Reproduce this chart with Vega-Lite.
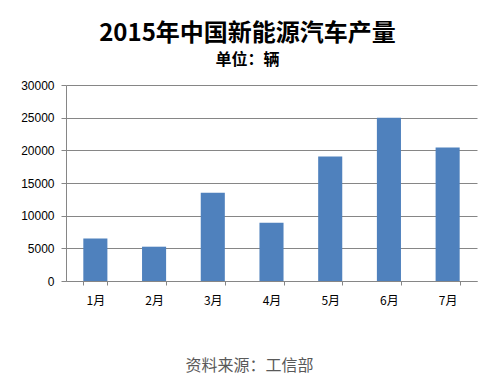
{
  "$schema": "https://vega.github.io/schema/vega-lite/v6.json",
  "width": 411,
  "height": 196,
  "autosize": {"type": "none"},
  "padding": {"left": 66, "top": 85, "right": 19, "bottom": 97},
  "background": "white",
  "title": {
    "text": "2015年中国新能源汽车产量",
    "subtitle": "单位：辆",
    "anchor": "middle",
    "font": "Noto Sans CJK SC",
    "fontSize": 24,
    "fontWeight": "bold",
    "color": "#000000",
    "subtitleFont": "Noto Sans CJK SC",
    "subtitleFontSize": 16,
    "subtitleFontWeight": "bold",
    "subtitleColor": "#000000",
    "subtitlePadding": 6,
    "offset": 11,
    "dx": -24
  },
  "data": {
    "values": [
      {"month": "1月", "value": 6500},
      {"month": "2月", "value": 5250},
      {"month": "3月", "value": 13500},
      {"month": "4月", "value": 8900},
      {"month": "5月", "value": 19050},
      {"month": "6月", "value": 25000},
      {"month": "7月", "value": 20450}
    ]
  },
  "mark": {"type": "bar", "color": "#4F81BD"},
  "encoding": {
    "x": {
      "field": "month",
      "type": "ordinal",
      "sort": null,
      "scale": {"paddingInner": 0.59, "paddingOuter": 0.295},
      "axis": {
        "labelAngle": 0,
        "domainColor": "#868686",
        "tickColor": "#868686",
        "tickBand": "extent",
        "tickSize": 4,
        "labelPadding": 10,
        "labelFont": "Noto Sans CJK SC",
        "labelFontSize": 12,
        "labelColor": "#000000",
        "title": "资料来源：工信部",
        "titleFont": "Noto Sans CJK SC",
        "titleFontSize": 16,
        "titleFontWeight": "normal",
        "titleColor": "#595959",
        "titleX": 183,
        "titleY": 84,
        "titleAlign": "center",
        "titleBaseline": "middle"
      }
    },
    "y": {
      "field": "value",
      "type": "quantitative",
      "scale": {"domain": [0, 30000]},
      "axis": {
        "values": [0, 5000, 10000, 15000, 20000, 25000, 30000],
        "format": "d",
        "grid": true,
        "gridColor": "#868686",
        "domainColor": "#868686",
        "tickColor": "#868686",
        "tickSize": 5,
        "labelPadding": 7,
        "labelFont": "Liberation Sans",
        "labelFontSize": 12,
        "labelColor": "#000000",
        "title": null
      }
    }
  },
  "config": {"view": {"stroke": null}}
}
